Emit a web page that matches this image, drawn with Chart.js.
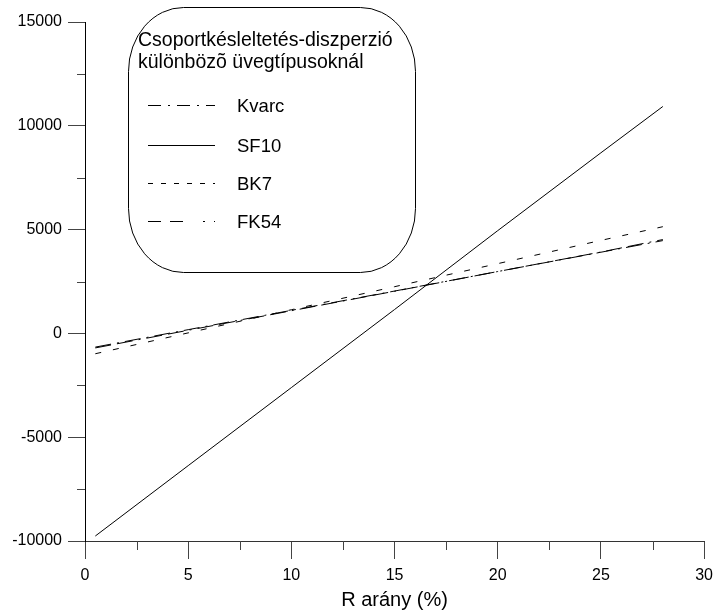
<!DOCTYPE html>
<html>
<head>
<meta charset="utf-8">
<script src="https://cdn.jsdelivr.net/npm/chart.js@4/dist/chart.umd.min.js"></script>
<style>
  html, body { margin: 0; padding: 0; background: #fff; }
  #wrap { width: 720px; height: 612px; }
</style>
</head>
<body>
<div id="wrap"><canvas id="chart" width="720" height="612"></canvas></div>
<script>
// === data ===
const rValues = [0.5, 5, 10, 15, 20, 25, 28];          // R arány (%)
const kvarc   = [-660, 180, 1110, 2040, 2980, 3910, 4470];
const sf10    = [-9760, -6370, -2610, 1150, 4950, 8700, 10930];
const bk7     = [-980, 25, 1140, 2250, 3360, 4480, 5140];
const fk54    = [-700, 150, 1090, 2030, 2980, 3920, 4520];

const xTicks = [0, 5, 10, 15, 20, 25, 30];
const yTicks = [-10000, -5000, 0, 5000, 10000, 15000];
const xMinor = [2.5, 7.5, 12.5, 17.5, 22.5, 27.5];
const yMinor = [-7500, -2500, 2500, 7500, 12500];

const legendTitle = ["Csoportkésleltetés-diszperzió", "különbözõ üvegtípusoknál"];
const seriesNames = ["Kvarc", "SF10", "BK7", "FK54"];

const FONT = "'Liberation Sans', Arial, sans-serif";

// dash patterns used in the plot and in the legend box
const plotDash   = [[16, 6, 2, 6], [], [6, 12], [16, 6, 16, 6, 2, 6]];
const legendDash = [[13, 7, 2, 7], [], [5, 8], [13, 9, 13, 20, 2, 9]];

const toPoints = vals => rValues.map((x, i) => ({ x: x, y: vals[i] }));

// minor tick marks (Chart.js has only one tick length per axis)
const minorTicks = {
  id: "minorTicks",
  afterDraw(chart) {
    const { ctx, scales: { x, y } } = chart;
    ctx.save();
    ctx.strokeStyle = "#444";
    ctx.lineWidth = 1;
    xMinor.forEach(v => {
      const px = Math.round(x.getPixelForValue(v)) + 0.5;
      ctx.beginPath();
      ctx.moveTo(px, y.bottom);
      ctx.lineTo(px, y.bottom + 9);
      ctx.stroke();
    });
    yMinor.forEach(v => {
      const py = Math.round(y.getPixelForValue(v)) + 0.5;
      ctx.beginPath();
      ctx.moveTo(x.left, py);
      ctx.lineTo(x.left - 8, py);
      ctx.stroke();
    });
    ctx.restore();
  }
};

// rounded legend box like the original
const boxLegend = {
  id: "boxLegend",
  afterDraw(chart) {
    const ctx = chart.ctx;
    const L = 128.5, T = 7.5, R = 415.5, B = 272.5, rx = 55, ry = 64;
    ctx.save();
    ctx.fillStyle = "#fff";
    ctx.strokeStyle = "#000";
    ctx.lineWidth = 1;
    ctx.beginPath();
    ctx.moveTo(L + rx, T);
    ctx.lineTo(R - rx, T);
    ctx.ellipse(R - rx, T + ry, rx, ry, 0, -Math.PI / 2, 0);
    ctx.lineTo(R, B - ry);
    ctx.ellipse(R - rx, B - ry, rx, ry, 0, 0, Math.PI / 2);
    ctx.lineTo(L + rx, B);
    ctx.ellipse(L + rx, B - ry, rx, ry, 0, Math.PI / 2, Math.PI);
    ctx.lineTo(L, T + ry);
    ctx.ellipse(L + rx, T + ry, rx, ry, 0, Math.PI, Math.PI * 1.5);
    ctx.closePath();
    ctx.fill();
    ctx.stroke();

    ctx.fillStyle = "#000";
    ctx.textBaseline = "alphabetic";
    ctx.font = "19.5px " + FONT;
    ctx.fillText(legendTitle[0], 138, 46);
    ctx.fillText(legendTitle[1], 138, 68);

    const rows = [105, 145, 183, 221];
    ctx.font = "18.5px " + FONT;
    seriesNames.forEach((name, i) => {
      ctx.setLineDash(legendDash[i]);
      ctx.beginPath();
      ctx.moveTo(148, rows[i] + 0.5);
      ctx.lineTo(215, rows[i] + 0.5);
      ctx.stroke();
      ctx.setLineDash([]);
      ctx.fillText(name, 237, rows[i] + 7);
    });
    ctx.restore();
  }
};

const datasets = [kvarc, sf10, bk7, fk54].map((vals, i) => ({
  label: seriesNames[i],
  data: toPoints(vals),
  borderColor: "#000",
  borderWidth: 1,
  borderDash: plotDash[i],
  pointRadius: 0,
  tension: 0,
  fill: false
}));

new Chart(document.getElementById("chart"), {
  type: "line",
  data: { datasets },
  options: {
    responsive: false,
    animation: false,
    layout: { padding: { top: 22, right: 9, left: 0, bottom: 0 } },
    plugins: { legend: { display: false }, tooltip: { enabled: false } },
    scales: {
      x: {
        type: "linear",
        min: 0, max: 30,
        afterBuildTicks: s => { s.ticks = xTicks.map(v => ({ value: v })); },
        afterFit: s => { s.height = 71; },
        grid: { drawOnChartArea: false, drawTicks: true, tickLength: 18, tickColor: "#444" },
        border: { display: true, color: "#333", width: 1 },
        ticks: { color: "#000", font: { family: FONT, size: 16 }, padding: 7, maxRotation: 0,
                 callback: v => String(v) },
        title: { display: true, text: "R arány (%)", color: "#000",
                 font: { family: FONT, size: 20 }, padding: { top: 0, bottom: 0 } }
      },
      y: {
        min: -10000, max: 15000,
        afterBuildTicks: s => { s.ticks = yTicks.map(v => ({ value: v })); },
        afterFit: s => { s.width = 85; },
        grid: { drawOnChartArea: false, drawTicks: true, tickLength: 17, tickColor: "#444" },
        border: { display: true, color: "#000", width: 1 },
        ticks: { color: "#000", font: { family: FONT, size: 16 }, padding: 6,
                 callback: v => String(v) }
      }
    }
  },
  plugins: [minorTicks, boxLegend]
});
</script>
</body>
</html>
